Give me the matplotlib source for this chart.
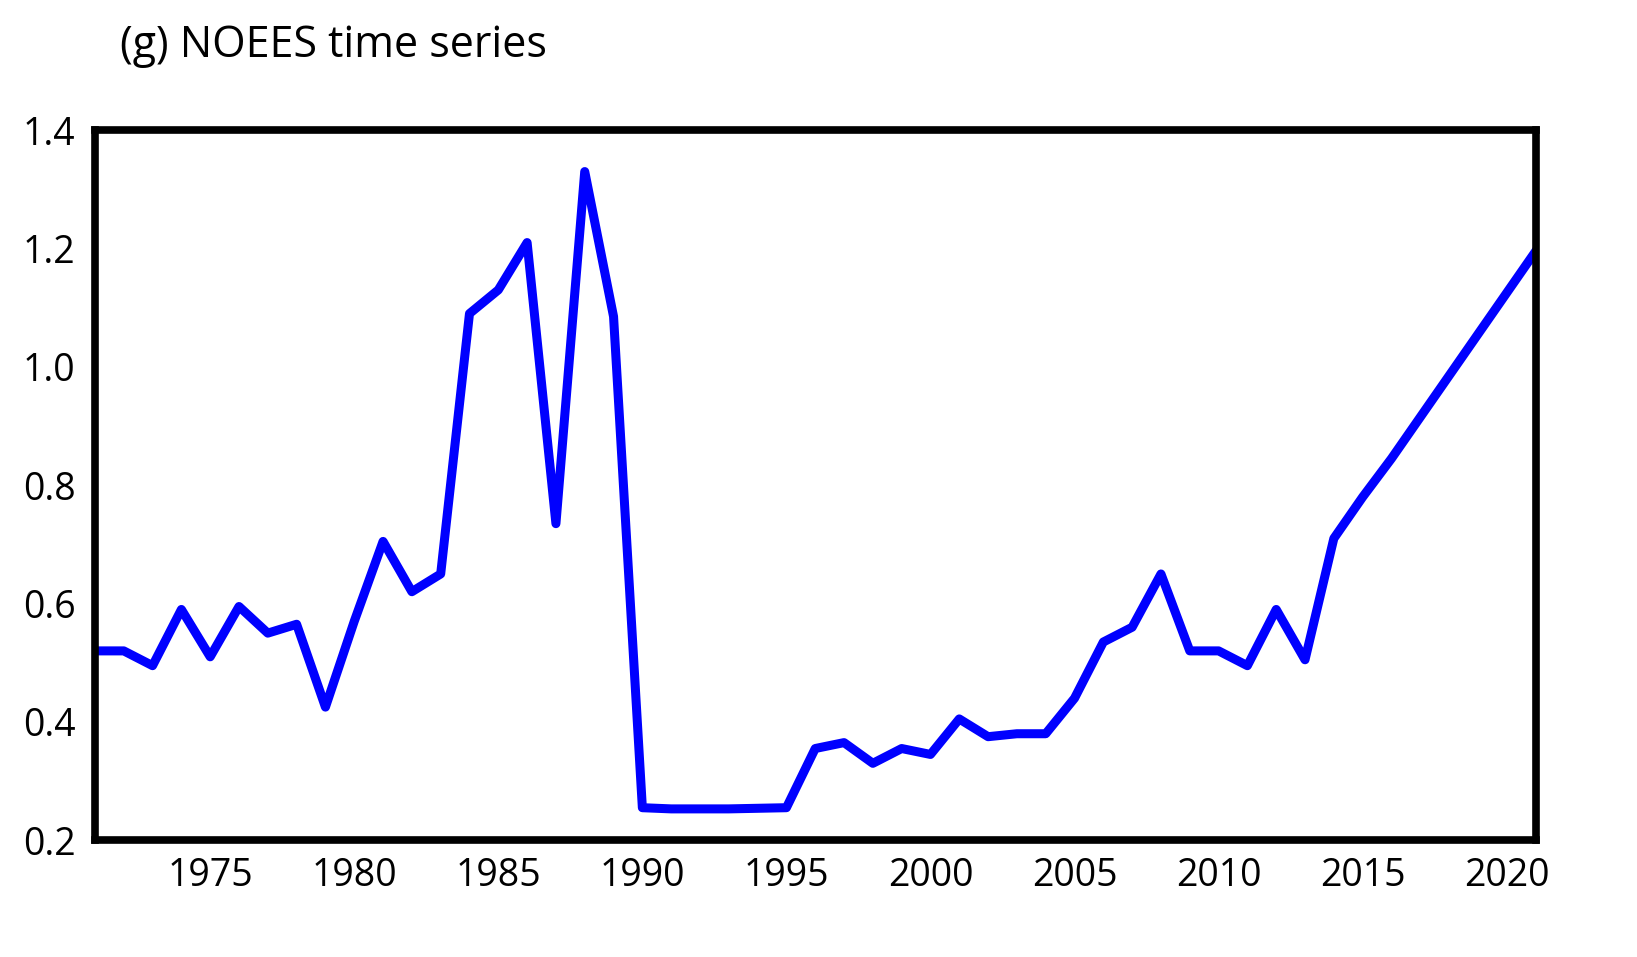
import matplotlib
matplotlib.use("Agg")
import matplotlib.pyplot as plt

years = list(range(1971, 2022))
noees = [0.52, 0.52, 0.495, 0.59, 0.51, 0.595, 0.55, 0.565, 0.425, 0.57,
         0.705, 0.62, 0.65, 1.09, 1.13, 1.21, 0.735, 1.33, 1.085, 0.255,
         0.253, 0.253, 0.253, 0.254, 0.255, 0.355, 0.365, 0.33, 0.355, 0.345,
         0.405, 0.375, 0.38, 0.38, 0.44, 0.535, 0.56, 0.65, 0.52, 0.52,
         0.495, 0.59, 0.505, 0.71, 0.78, 0.845, 0.915, 0.985, 1.055, 1.125, 1.195]
xticks = [1975, 1980, 1985, 1990, 1995, 2000, 2005, 2010, 2015, 2020]
yticks = [0.2, 0.4, 0.6, 0.8, 1.0, 1.2, 1.4]

plt.rcParams['font.family'] = ['Open Sans', 'DejaVu Sans']

fig = plt.figure(figsize=(16.37, 9.57), dpi=100)
ax = fig.add_axes([0.058, 0.122, 0.880, 0.742])
ax.plot(years, noees, color='#0000ff', lw=6.5, solid_joinstyle='round')
ax.set_xlim(1971, 2021)
ax.set_ylim(0.2, 1.4)
ax.set_xticks(xticks)
ax.set_yticks(yticks)
ax.set_yticklabels([f"{v:.1f}" for v in yticks])
ax.tick_params(length=0, labelsize=27, pad=12)
ax.tick_params(axis='y', pad=14)
for s in ax.spines.values():
    s.set_linewidth(5.5)
fig.text(0.073, 0.975, "(g) NOEES time series", fontsize=31, va='top')
fig.savefig("out.png")
